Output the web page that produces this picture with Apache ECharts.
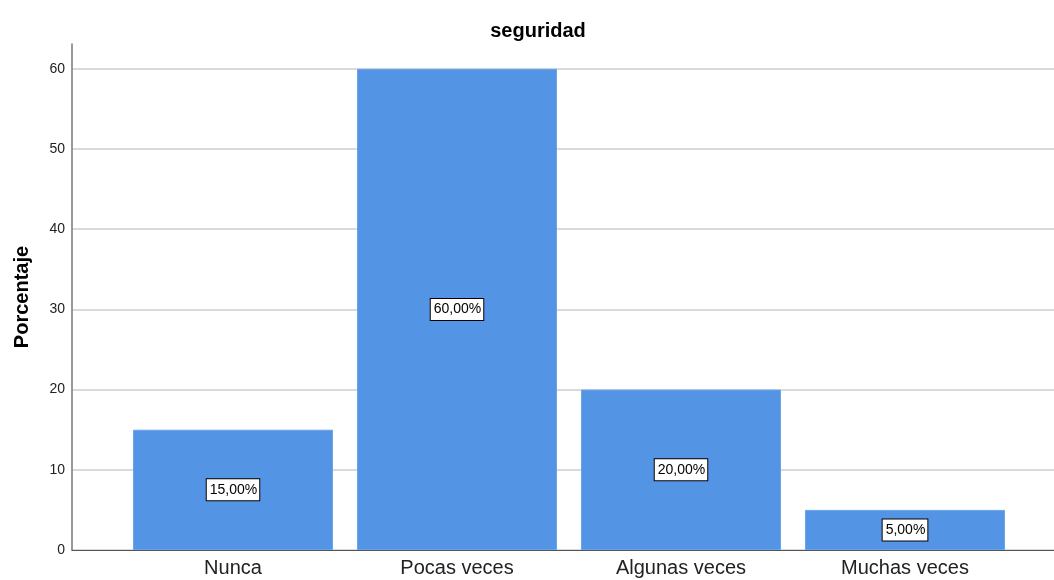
<!DOCTYPE html>
<html>
<head>
<meta charset="utf-8">
<script src="https://cdn.jsdelivr.net/npm/echarts@6/dist/echarts.min.js"></script>
<style>
  html, body { margin: 0; padding: 0; background: #fff; }
  #chart { width: 1054px; height: 580px; }
</style>
</head>
<body>
<div id="chart"></div>
<script>
// Respuestas a la pregunta "seguridad"
const categories = ['Nunca', 'Pocas veces', 'Algunas veces', 'Muchas veces'];
const percentages = [15, 60, 20, 5];
const yTicks = [0, 10, 20, 30, 40, 50, 60];

const Y_MAX = 63.1;
const TOP = 44, BOTTOM = 30;
const FONT = 'Liberation Sans, Arial, sans-serif';

const chart = echarts.init(document.getElementById('chart'));
chart.setOption({
  animation: false,
  backgroundColor: '#ffffff',
  title: {
    text: 'seguridad',
    left: 533,
    textAlign: 'center',
    top: 16,
    textStyle: { fontFamily: FONT, fontSize: 20, fontWeight: 'bold', color: '#000' }
  },
  grid: [
    // frame: y axis, gridlines and baseline
    { left: 72, right: 0, top: TOP, bottom: BOTTOM },
    // bars
    { left: 121, right: 37, top: TOP, bottom: BOTTOM }
  ],
  xAxis: [
    {
      gridIndex: 0, type: 'value', min: 0, max: 1,
      axisLine: { show: true, lineStyle: { color: '#555', width: 1 } },
      axisTick: { show: false }, axisLabel: { show: false }, splitLine: { show: false }
    },
    {
      gridIndex: 1, type: 'category', data: categories,
      axisLine: { show: false }, axisTick: { show: false },
      axisLabel: { margin: 8, fontSize: 20, color: '#222', fontFamily: FONT }
    }
  ],
  yAxis: [
    {
      gridIndex: 0, type: 'value', min: 0, max: Y_MAX, interval: 10,
      name: 'Porcentaje', nameLocation: 'middle', nameGap: 40, nameRotate: 90,
      nameTextStyle: { fontFamily: FONT, fontSize: 20, fontWeight: 'bold', color: '#000' },
      axisLine: { show: true, lineStyle: { color: '#777', width: 1.5 } },
      axisTick: { show: false },
      axisLabel: {
        margin: 7, fontSize: 14, color: '#222', showMaxLabel: false, fontFamily: FONT,
        formatter: v => (yTicks.indexOf(v) >= 0 ? String(v) : '')
      },
      splitLine: {
        show: true,
        lineStyle: {
          color: yTicks.map(() => '#cccccc').concat(['rgba(0,0,0,0)']),
          width: 1.5
        }
      }
    },
    {
      gridIndex: 1, type: 'value', min: 0, max: Y_MAX, interval: 10,
      axisLine: { show: false }, axisTick: { show: false },
      axisLabel: { show: false }, splitLine: { show: false }
    }
  ],
  series: [{
    type: 'bar',
    xAxisIndex: 1, yAxisIndex: 1,
    data: percentages,
    barWidth: 200,
    itemStyle: { color: '#5494e4', borderColor: '#6aa3ea', borderWidth: 1 },
    label: {
      show: true,
      position: 'inside',
      formatter: p => p.value.toFixed(2).replace('.', ',') + '%',
      fontFamily: FONT,
      fontSize: 14, color: '#000',
      backgroundColor: '#fff',
      borderColor: '#000', borderWidth: 1,
      padding: [4, 2, 3, 3]
    }
  }]
});
</script>
</body>
</html>
